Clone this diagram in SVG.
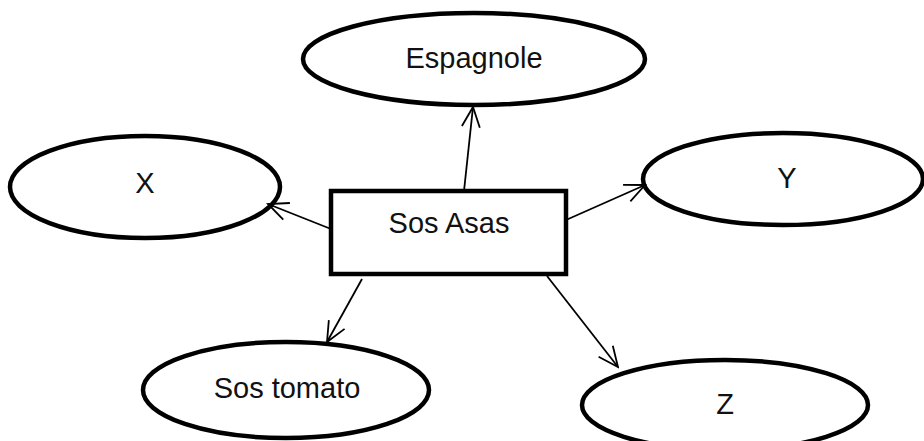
<svg xmlns="http://www.w3.org/2000/svg" width="924" height="441" viewBox="0 0 924 441">
<defs>
<style>
.node{fill:#fff;stroke:#000;stroke-width:4.5}
.lbl{font-family:"Liberation Sans",Arial,sans-serif;font-size:29px;fill:#111;text-anchor:middle}
.conn{stroke:#000;stroke-width:1.8;fill:none}
</style>
<marker id="arr" viewBox="0 0 24 24" refX="22" refY="12" markerWidth="24" markerHeight="24" markerUnits="userSpaceOnUse" orient="auto">
<path d="M2,3 L22,12 L2,21" fill="none" stroke="#000" stroke-width="1.8"/>
</marker>
</defs>
<rect width="924" height="441" fill="#fff"/>
<g id="n-espagnole"><ellipse class="node" cx="474" cy="59" rx="171" ry="46"/><text class="lbl" x="474" y="68">Espagnole</text></g>
<g id="n-x"><ellipse class="node" cx="145" cy="187" rx="135" ry="51"/><text class="lbl" x="145" y="193">X</text></g>
<g id="n-y"><ellipse class="node" cx="783" cy="179" rx="140" ry="46"/><text class="lbl" x="787" y="188">Y</text></g>
<g id="n-tomato"><ellipse class="node" cx="286" cy="390" rx="143" ry="48"/><text class="lbl" x="287" y="398">Sos tomato</text></g>
<g id="n-z"><ellipse class="node" cx="725" cy="405" rx="143" ry="45"/><text class="lbl" x="725" y="414">Z</text></g>
<g id="n-sosasas"><rect class="node" x="331" y="191" width="235" height="83"/><text class="lbl" x="449" y="233">Sos Asas</text></g>
<g id="connectors">
<line class="conn" x1="464" y1="191" x2="473" y2="107" marker-end="url(#arr)"/>
<line class="conn" x1="331" y1="229" x2="268" y2="204" marker-end="url(#arr)"/>
<line class="conn" x1="566" y1="220" x2="645" y2="185" marker-end="url(#arr)"/>
<line class="conn" x1="362" y1="279" x2="327" y2="342" marker-end="url(#arr)"/>
<line class="conn" x1="547" y1="276" x2="618" y2="367" marker-end="url(#arr)"/>
</g>
</svg>
